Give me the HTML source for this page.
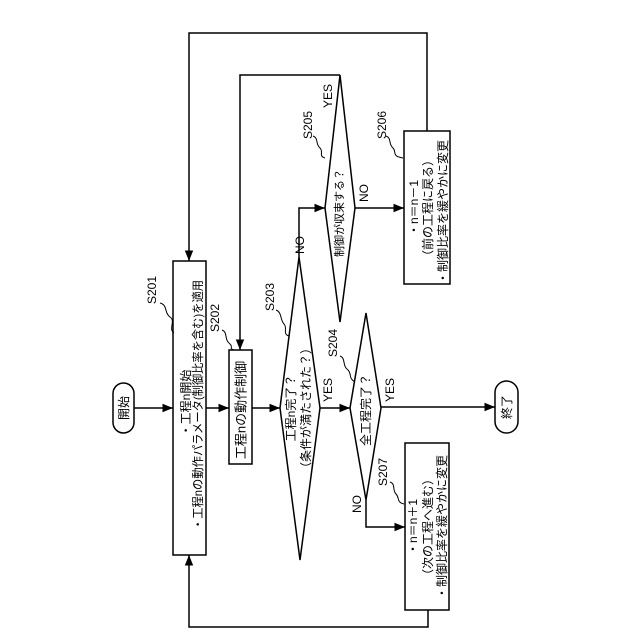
<!DOCTYPE html>
<html><head><meta charset="utf-8"><style>
html,body{margin:0;padding:0;background:#fff;}
svg{display:block;}
text{font-family:"Liberation Sans","Noto Sans CJK JP",sans-serif;fill:#000;}
</style></head><body>
<svg width="640" height="640" viewBox="0 0 640 640" xmlns="http://www.w3.org/2000/svg">
<defs><marker id="a" viewBox="0 0 10 10" refX="10" refY="5" markerWidth="7" markerHeight="7" orient="auto"><path d="M0,1 L10,5 L0,9 z" fill="#000"/></marker></defs>
<g stroke="#000" stroke-width="1.5" fill="none">
<rect x="113" y="383" width="21" height="50" rx="10.5" fill="#fff"/>
<line x1="134" y1="408" x2="173" y2="408" marker-end="url(#a)"/>
<rect x="173" y="261" width="33" height="294" fill="#fff"/>
<line x1="206" y1="408" x2="229" y2="408" marker-end="url(#a)"/>
<rect x="229" y="350" width="23" height="114" fill="#fff"/>
<line x1="252" y1="408" x2="280" y2="408" marker-end="url(#a)"/>
<polygon points="280,408 299,257 320,408 300,560" fill="#fff"/>
<polyline points="299,257 299,208 325,208" marker-end="url(#a)"/>
<polygon points="325,208 340,75 355,208 340,322" fill="#fff"/>
<polyline points="340,75 240,75 240,350" marker-end="url(#a)"/>
<line x1="355" y1="208" x2="404" y2="208" marker-end="url(#a)"/>
<rect x="404" y="131" width="46" height="153" fill="#fff"/>
<polyline points="427,131 427,33 189,33 189,261" marker-end="url(#a)"/>
<line x1="320" y1="408" x2="350" y2="408" marker-end="url(#a)"/>
<polygon points="350,408 366,313 381,408 366,500" fill="#fff"/>
<line x1="381" y1="407" x2="495" y2="407" marker-end="url(#a)"/>
<rect x="495" y="381" width="23" height="52" rx="11.5" fill="#fff"/>
<polyline points="366,500 366,527 405,527" marker-end="url(#a)"/>
<rect x="405" y="443" width="44" height="167" fill="#fff"/>
<polyline points="428,610 428,627 189,627 189,555" marker-end="url(#a)"/>
<path d="M160,303 c8,2 4,10 10,14 c6,4 -2,12 4,16" stroke-width="1"/>
<path d="M222,330 c6,2 2,10 8,14 c4,4 -2,4 4,6" stroke-width="1"/>
<path d="M276,310 c6,2 4,10 8,14 c4,4 -2,10 5,12" stroke-width="1"/>
<path d="M313,136 c6,2 2,8 7,12 c4,4 -2,8 5,10" stroke-width="1"/>
<path d="M386,136 c6,2 2,8 7,12 c4,4 -2,8 10,10" stroke-width="1"/>
<path d="M340,356 c6,2 2,10 8,14 c4,4 0,8 7,12" stroke-width="1"/>
<path d="M390,482 c6,2 2,8 6,12 c4,4 0,8 8,10" stroke-width="1"/>
</g>
<g font-size="12" text-anchor="middle" dominant-baseline="central">
<text transform="translate(124,408) rotate(-90)">開始</text>
<text transform="translate(186,403) rotate(-90)">・工程n開始</text>
<text transform="translate(198,405) rotate(-90)" textLength="250" lengthAdjust="spacingAndGlyphs">・工程nの動作パラメータ(制御比率を含む)を適用</text>
<text transform="translate(241,410) rotate(-90)" font-size="13">工程nの動作制御</text>
<text transform="translate(291,408) rotate(-90)">工程n完了？</text>
<text transform="translate(306,408) rotate(-90)">（条件が満たされた？）</text>
<text transform="translate(340,213) rotate(-90)" font-size="11">制御が収束する？</text>
<text transform="translate(414,208) rotate(-90)">・n＝n－1</text>
<text transform="translate(428,208) rotate(-90)">（前の工程に戻る）</text>
<text transform="translate(443,212) rotate(-90)">・制御比率を緩やかに変更</text>
<text transform="translate(366,410) rotate(-90)">全工程完了？</text>
<text transform="translate(507,407) rotate(-90)">終了</text>
<text transform="translate(413,527) rotate(-90)">・n＝n＋1</text>
<text transform="translate(428,527) rotate(-90)">（次の工程へ進む）</text>
<text transform="translate(442,527) rotate(-90)">・制御比率を緩やかに変更</text>
</g>
<g font-size="12" text-anchor="middle" dominant-baseline="central">
<text transform="translate(152,290) rotate(-90)">S201</text>
<text transform="translate(215,318) rotate(-90)">S202</text>
<text transform="translate(270,297) rotate(-90)">S203</text>
<text transform="translate(308,125) rotate(-90)">S205</text>
<text transform="translate(382,125) rotate(-90)">S206</text>
<text transform="translate(333,343) rotate(-90)">S204</text>
<text transform="translate(383,472) rotate(-90)">S207</text>
<text transform="translate(300,245) rotate(-90)">NO</text>
<text transform="translate(328,390) rotate(-90)">YES</text>
<text transform="translate(328,96) rotate(-90)">YES</text>
<text transform="translate(364,193) rotate(-90)">NO</text>
<text transform="translate(390,390) rotate(-90)">YES</text>
<text transform="translate(357,504) rotate(-90)">NO</text>
</g>
</svg>
</body></html>
